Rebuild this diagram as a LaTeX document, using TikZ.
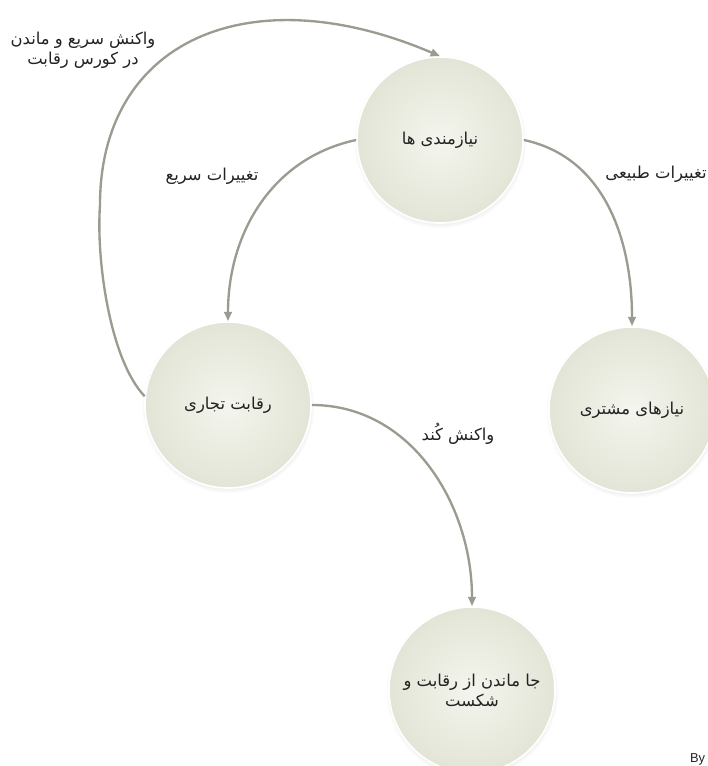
\documentclass[tikz,border=0pt]{standalone}
\usepackage{fontspec}
\setmainfont{DejaVu Sans}
\newfontfamily\arabicfont[Script=Arabic]{DejaVu Sans}
\newfontfamily\latinfont{Liberation Sans}
\TeXXeTstate=1
\usetikzlibrary{arrows.meta,shadows}
\definecolor{bubbleIn}{HTML}{F4F5EE}
\definecolor{bubbleOut}{HTML}{E2E5D6}
\definecolor{flowline}{HTML}{999C8F}
\definecolor{inktext}{HTML}{222222}
\tikzset{
  bubble/.style={circle, minimum size=4.98cm, inner sep=0pt,
    inner color=bubbleIn, outer color=bubbleOut,
    draw=white, line width=1.4pt,
    circular drop shadow={shadow xshift=0pt, shadow yshift=-1.5pt,
      shadow scale=1.04, opacity=0.3},
    font=\arabicfont\fontsize{14}{17}\selectfont, text=inktext, align=center},
  flow/.style={draw=flowline, line width=2pt,
    -{Triangle[length=8pt,width=6.5pt]}},
  tag/.style={font=\arabicfont\fontsize{14}{17}\selectfont, text=inktext, align=center}
}
\begin{document}
\begin{tikzpicture}[x=0.03cm,y=-0.03cm]
\useasboundingbox (0,0) rectangle (707,766);

% the four states of the cycle
\node[bubble] (needs)  at (440,140) {\beginR نیازمندی ها\endR};
\node[bubble] (rival)  at (228,405) {\beginR رقابت تجاری\endR};
\node[bubble] (client) at (632,410) {\beginR نیازهای مشتری\endR};
\node[bubble] (loss)   at (472,690) {{\beginR جا ماندن از رقابت و\endR}\\{\beginR شکست\endR}};

% transitions
\coordinate (loopturn) at (100,205);
\draw[flow] (rival.174) .. controls (110,360) and (96,260) .. (loopturn)
  .. controls (100,40) and (250,-25) .. (needs.north);
\draw[flow] (needs.west) to[out=192,in=90] (rival.north);
\draw[flow] (needs.east) to[out=-12,in=90] (client.north);
\draw[flow] (rival.east) to[out=0,in=90] (loss.north);

% transition labels
\node[tag] (lblloop) at (83,50) {{\beginR واکنش سریع و ماندن\endR}\\{\beginR در کورس رقابت\endR}};
\node[tag] (lblfast) at (212,176) {\beginR تغییرات سریع\endR};
\node[tag] (lblnat)  at (656,174) {\beginR تغییرات طبیعی\endR};
\node[tag] (lblslow) at (458,434) {\beginR واکنش کُند\endR};

\node[anchor=base west, font=\latinfont\fontsize{11}{13}\selectfont, text=inktext] (byline) at (686,762) {By};
\end{tikzpicture}
\end{document}
